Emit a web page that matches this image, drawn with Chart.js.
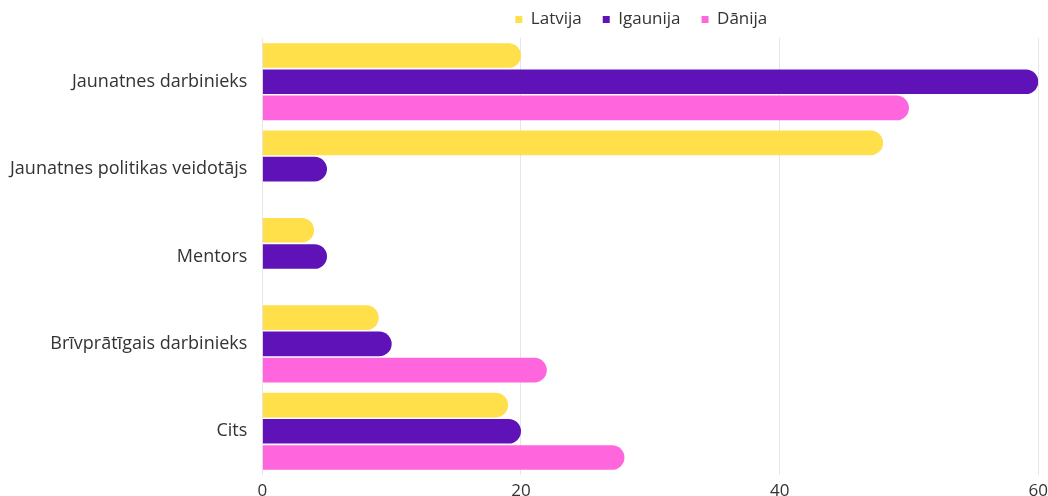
<!DOCTYPE html>
<html>
<head>
<meta charset="utf-8">
<script src="https://cdn.jsdelivr.net/npm/chart.js@4/dist/chart.umd.min.js"></script>
<style>
  html, body { margin: 0; padding: 0; background: #fff; }
  #wrap { width: 1048px; height: 496px; position: relative; }
</style>
</head>
<body>
<div id="wrap"><canvas id="c"></canvas></div>
<script>
const categories = ["Jaunatnes darbinieks", "Jaunatnes politikas veidotājs", "Mentors", "Brīvprātīgais darbinieks", "Cits"];
const seriesNames = ["Latvija", "Igaunija", "Dānija"];
const latvija = [20, 48, 4, 9, 19];
const igaunija = [60, 5, 5, 10, 20];
const danija = [50, null, null, 22, 28];
const xTicks = [0, 20, 40, 60];
const colors = ["#FFDF4A", "#5E12B8", "#FF66DD"];

const seriesValues = [latvija, igaunija, danija];
const datasets = seriesNames.map((name, i) => ({
  label: name,
  data: seriesValues[i],
  backgroundColor: colors[i],
  borderColor: colors[i],
  borderWidth: 0,
  borderRadius: 14,
  borderSkipped: 'start',
  barPercentage: 0.94,
  categoryPercentage: 0.9
}));

Chart.defaults.font.family = "'Open Sans', sans-serif";
Chart.defaults.color = "#333";

const legendShift = {
  id: 'legendShift',
  afterLayout(chart) {
    const l = chart.legend;
    if (l) { l.left -= 9; l.right -= 9; }
  }
};

new Chart(document.getElementById('c'), {
  type: 'bar',
  data: { labels: categories, datasets },
  plugins: [legendShift],
  options: {
    indexAxis: 'y',
    responsive: true,
    maintainAspectRatio: false,
    animation: false,
    layout: { padding: { left: -5, right: 8, top: -10, bottom: -4 } },
    plugins: {
      legend: {
        position: 'top',
        fullSize: false,
        labels: {
          usePointStyle: true,
          pointStyle: 'rect',
          boxWidth: 7,
          boxHeight: 7,
          padding: 21,
          font: { size: 17 },
          color: '#333'
        }
      },
      tooltip: { enabled: false }
    },
    scales: {
      x: {
        min: 0,
        max: 60,
        afterBuildTicks: (axis) => { axis.ticks = xTicks.map(v => ({ value: v })); },
        grid: { color: '#e6e6e6', drawTicks: true, tickLength: 7, tickColor: 'rgba(0,0,0,0)', lineWidth: 1 },
        border: { display: false },
        ticks: { font: { size: 17, lineHeight: 1.06 }, color: '#333', padding: 0 }
      },
      y: {
        grid: { display: false, drawTicks: false },
        border: { display: true, color: '#e6e6e6' },
        ticks: { font: { size: 18, lineHeight: 0.5 }, color: '#333', padding: 15 }
      }
    }
  }
});
</script>
</body>
</html>
